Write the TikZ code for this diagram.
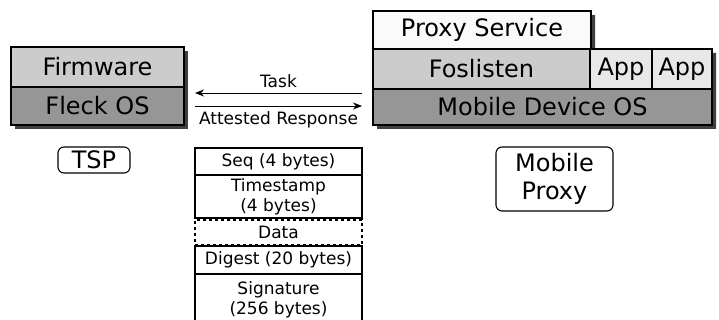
\documentclass[tikz,border=0pt]{standalone}
\usepackage{fontspec}
\setmainfont{DejaVu Sans}
\usetikzlibrary{arrows.meta}

\definecolor{layerlight}{RGB}{204,204,204}
\definecolor{layerdark}{RGB}{150,150,150}
\definecolor{layerapp}{RGB}{232,232,232}
\definecolor{layertop}{RGB}{250,250,250}

\tikzset{
  layer/.style={draw, line width=1.1pt, inner sep=0pt, font=\fontsize{24}{28}\selectfont},
  field/.style={draw, line width=1.1pt, inner sep=0pt, minimum width=167pt, align=center,
    font=\fontsize{17}{20}\selectfont},
  tag/.style={draw, line width=1.1pt, rounded corners=6pt, inner sep=0pt, align=center,
    font=\fontsize{24}{28}\selectfont},
  msg/.style={line width=0.8pt, -{Stealth[length=9pt,width=7pt]}},
}

\begin{document}
\begin{tikzpicture}[x=1pt,y=-1pt]
 \useasboundingbox (0,0) rectangle (719,320);

 % shadows behind the two stacks
 \fill[black!75] (15,51) rectangle (188,129);
 \fill[black!75] (377,15) -- (595,15) -- (595,53) -- (716,53) -- (716,129) -- (377,129) -- cycle;

 % TSP stack
 \node (firmware) [layer, fill=layerlight, minimum width=173pt, minimum height=40pt] at (97.5,67) {Firmware};
 \node (fleck) [layer, fill=layerdark, minimum width=173pt, minimum height=38pt] at (97.5,106) {Fleck OS};

 % mobile stack
 \node (proxysvc) [layer, fill=layertop, minimum width=218pt, minimum height=38pt] at (482,30) {Proxy Service};
 \node (foslisten) [layer, fill=layerlight, minimum width=217pt, minimum height=40pt] at (481.5,69) {Foslisten};
 \node (app1) [layer, fill=layerapp, minimum width=62pt, minimum height=40pt] at (621,69) {App};
 \node (app2) [layer, fill=layerapp, minimum width=60pt, minimum height=40pt] at (682,69) {App};
 \node (mobileos) [layer, fill=layerdark, minimum width=339pt, minimum height=36pt] at (542.5,107) {Mobile Device OS};

 % labels
 \node (tsp) [tag, minimum width=72pt, minimum height=26pt] at (94,160) {TSP};
 \node (mproxy) [tag, minimum width=117pt, minimum height=64pt] at (554.5,179) {Mobile\\Proxy};

 % messages
 \coordinate (taskR) at (362,93);
 \coordinate (taskL) at (195,93);
 \coordinate (respL) at (195,106);
 \coordinate (respR) at (362,106);
 \draw[msg] (taskR) -- node[above=2pt, font=\fontsize{17}{20}\selectfont] {Task} (taskL);
 \draw[msg] (respL) -- node[below=2pt, font=\fontsize{17}{20}\selectfont] {Attested Response} (respR);

 % response format
 \node (seq) [field, minimum height=27pt] at (278.5,161.5) {Seq (4 bytes)};
 \node (stamp) [field, minimum height=43pt] at (278.5,196.5) {Timestamp\\(4 bytes)};
 \node (data) [field, dashed, minimum height=25pt] at (278.5,232.5) {Data};
 \node (digest) [field, minimum height=28pt] at (278.5,260) {Digest (20 bytes)};
 \node (sig) [field, minimum height=52pt] at (278.5,300) {Signature\\(256 bytes)};
\end{tikzpicture}
\end{document}
